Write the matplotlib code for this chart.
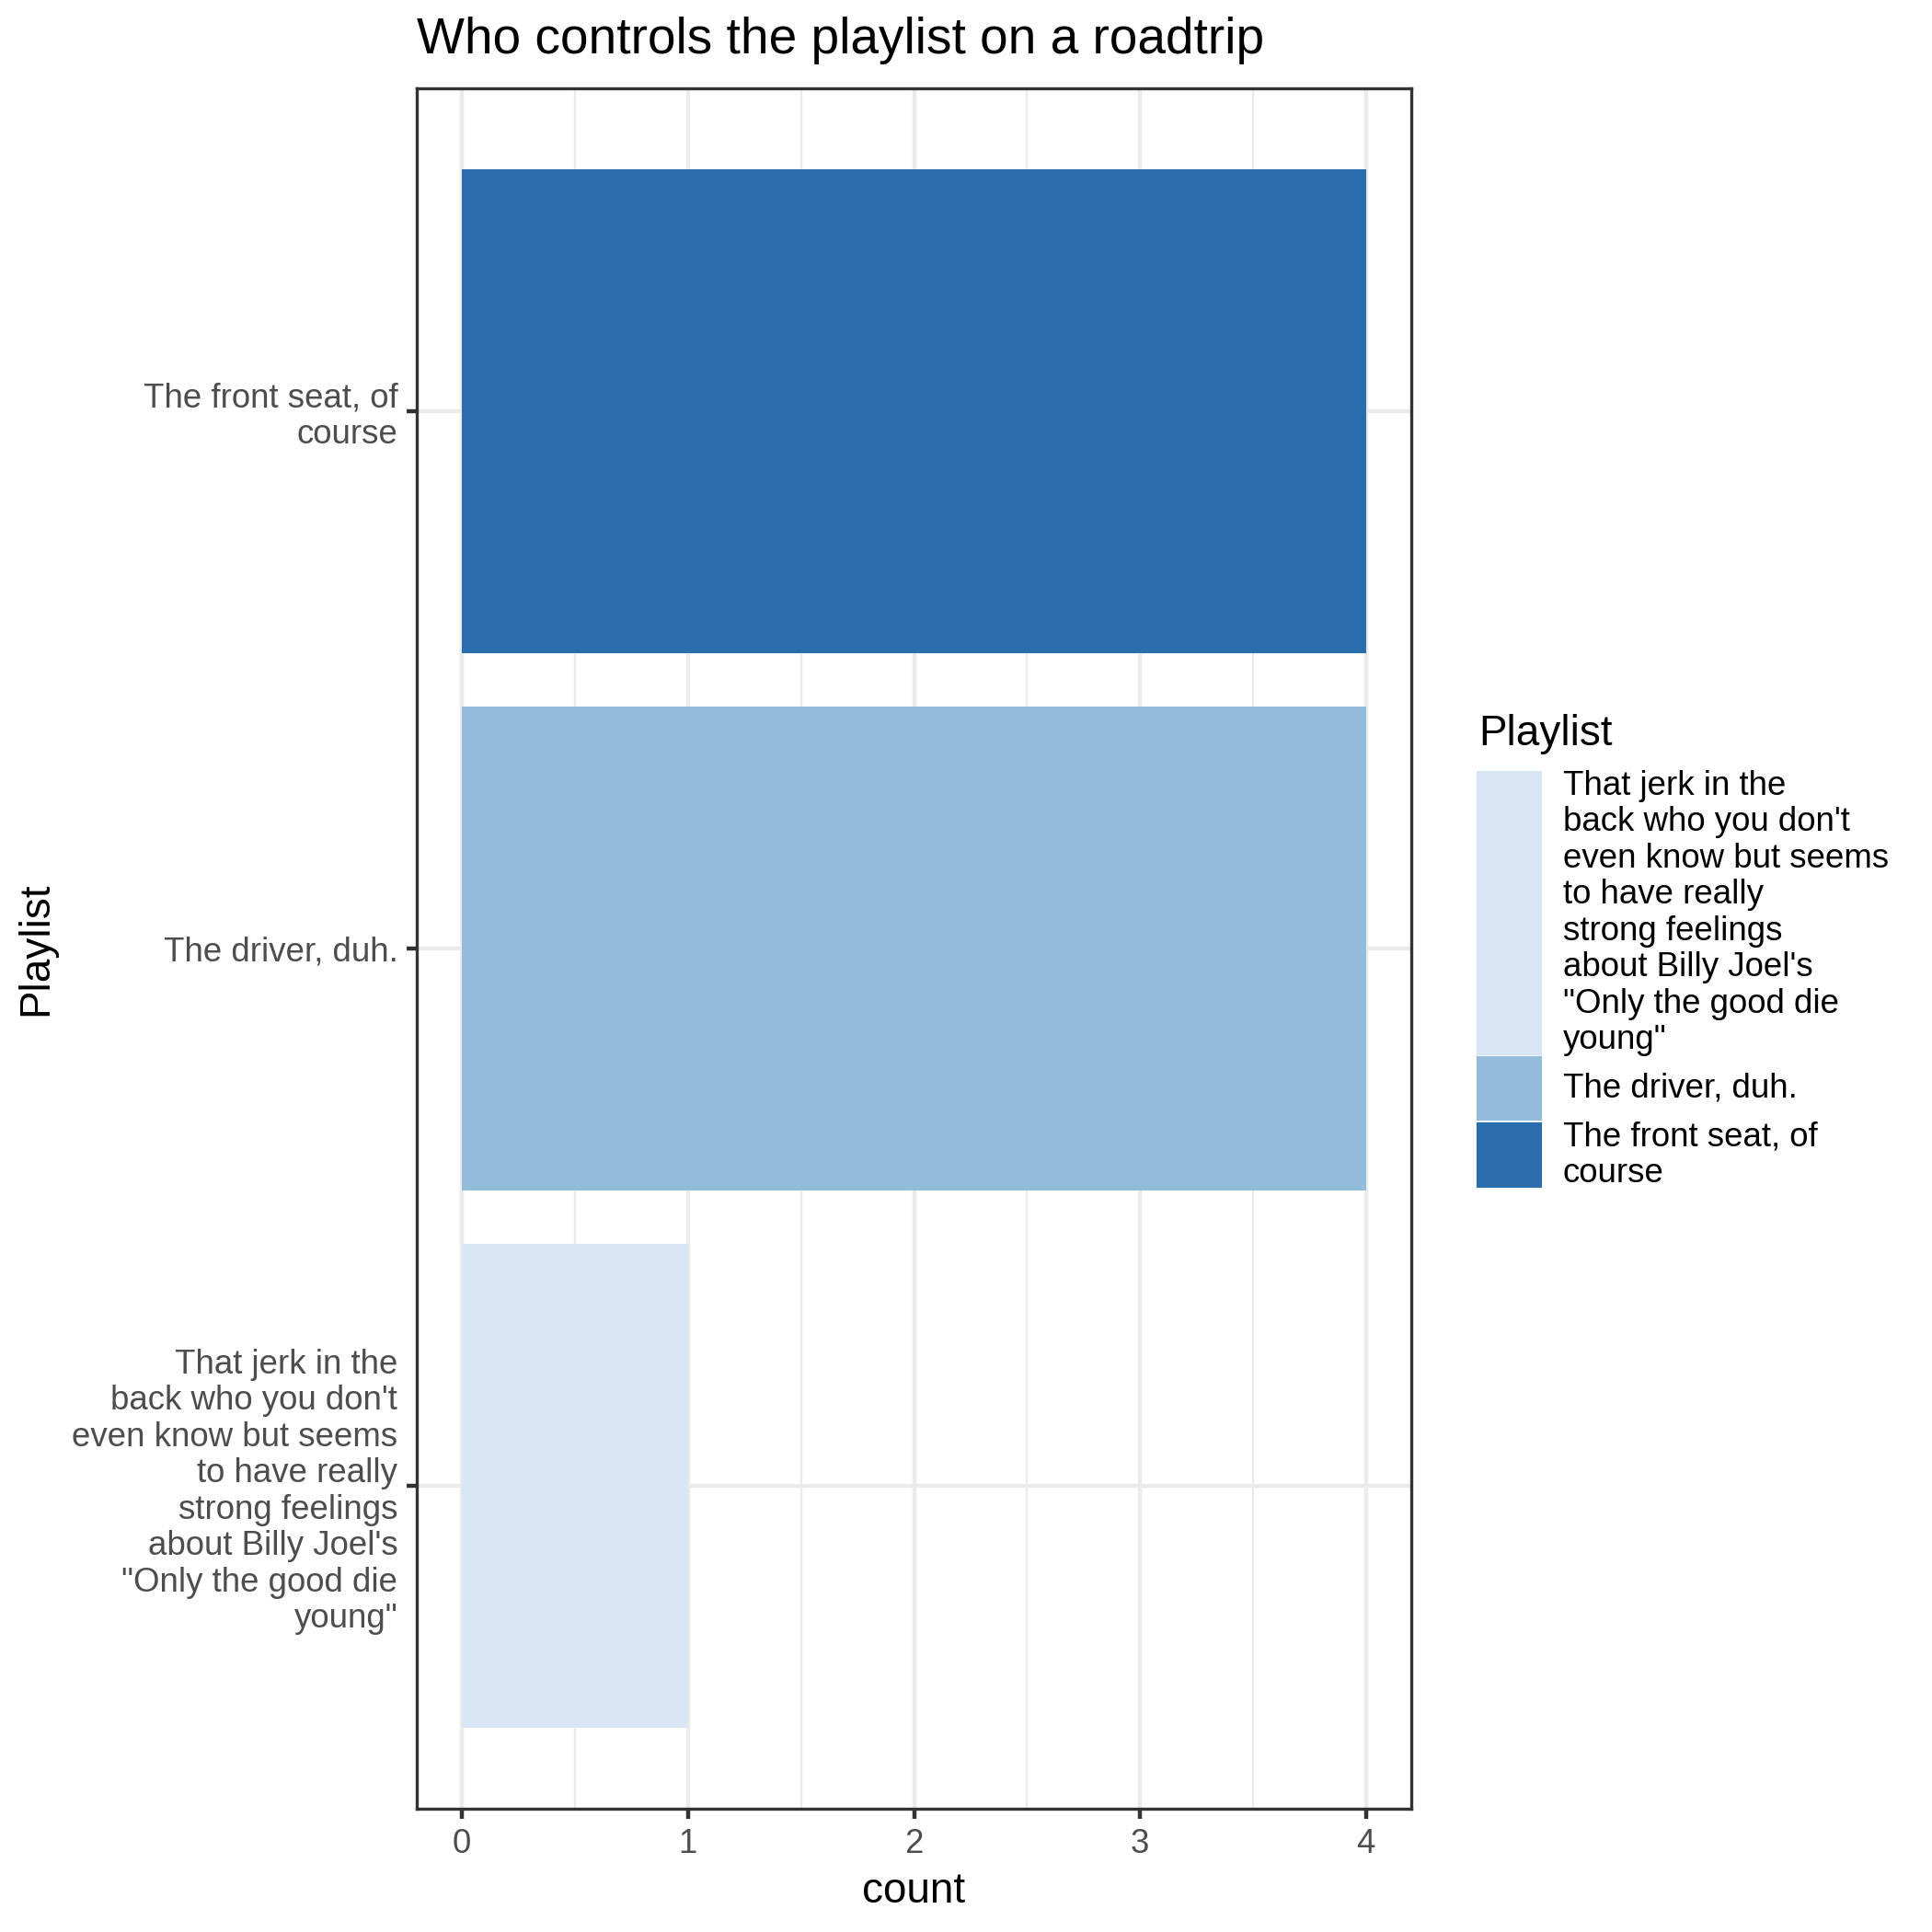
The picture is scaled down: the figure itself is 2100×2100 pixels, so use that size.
import matplotlib
matplotlib.use('Agg')
import matplotlib.pyplot as plt
from matplotlib.patches import Rectangle

plt.rcParams['font.family'] = ['Liberation Sans', 'DejaVu Sans']

# data, bottom to top as drawn
categories = [
    "That jerk in the\nback who you don't\neven know but seems\nto have really\nstrong feelings\nabout Billy Joel's\n\"Only the good die\nyoung\"",
    "The driver, duh.",
    "The front seat, of\ncourse",
]
counts = [1, 4, 4]
colors = ['#D8E6F4', '#91BDDA', '#2A6DAF']
x_ticks = [0, 1, 2, 3, 4]
x_minor = [0.5, 1.5, 2.5, 3.5]

W = H = 2100
fig = plt.figure(figsize=(7, 7), dpi=300)


def fx(px):
    return px / W


def fy(py):
    return 1 - py / H


# panel in pixel coords
left, right, top, bottom = 453, 1534, 96, 1966
ax = fig.add_axes([fx(left), fy(bottom), fx(right - left), (bottom - top) / H])

grid_col = '#EBEBEB'
dark = '#333333'
lw = 1.07
line_sp = 1.165

for x in x_minor:
    ax.axvline(x, color=grid_col, lw=lw / 2, zorder=0)
for x in x_ticks:
    ax.axvline(x, color=grid_col, lw=lw, zorder=0)
for i in range(len(categories)):
    ax.axhline(i + 1, color=grid_col, lw=lw, zorder=0)

ypos = [i + 1 for i in range(len(categories))]
ax.barh(ypos, counts, height=0.9, color=colors, zorder=2)

ax.set_xlim(-0.2, 4.2)
ax.set_ylim(0.4, 3.6)
ax.set_xticks(x_ticks)
ax.set_xticklabels([str(t) for t in x_ticks])
ax.set_yticks(ypos)
ax.set_yticklabels(categories, linespacing=line_sp, ha='right')
ax.tick_params(axis='both', length=2.75, width=lw, color=dark,
               labelsize=8.8, labelcolor='#4D4D4D', pad=2.2)
for s in ax.spines.values():
    s.set_color(dark)
    s.set_linewidth(0.8)
    s.set_zorder(3)

ax.set_xlabel('count', fontsize=11, labelpad=3)
ax.set_ylabel('Playlist', fontsize=11, labelpad=4)

fig.text(fx(left), fy(44), 'Who controls the playlist on a roadtrip',
         fontsize=13.2, ha='left', va='center')

# legend drawn by hand so keys stretch with the wrapped labels
leg_x = 1607
key_w = 67
fig.text(fx(leg_x), fy(798), 'Playlist', fontsize=11, ha='left', va='center')
key_spans = [(840, 1145), (1150, 1216), (1222, 1289)]
legend_order = [0, 1, 2]
for idx, (y0, y1) in zip(legend_order, key_spans):
    fig.patches.append(Rectangle((fx(leg_x), fy(y1)), key_w / W, (y1 - y0) / H,
                                 transform=fig.transFigure, color=colors[idx]))
    fig.text(fx(1699), fy((y0 + y1) / 2), categories[idx], fontsize=8.8,
             ha='left', va='center', linespacing=line_sp, multialignment='left')

fig.savefig('out.png', dpi=300)
